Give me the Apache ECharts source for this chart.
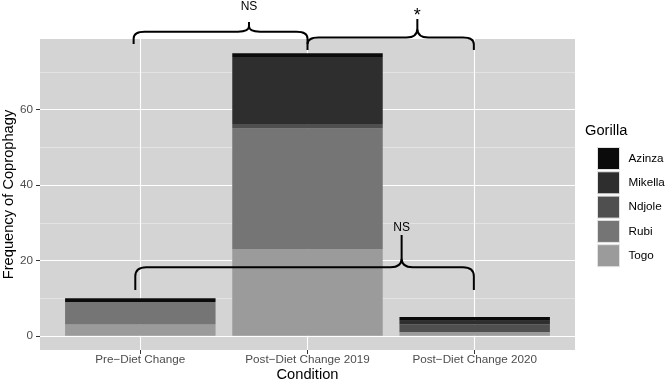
<!DOCTYPE html>
<html><head><meta charset="utf-8">
<script src="https://cdn.jsdelivr.net/npm/echarts@6/dist/echarts.min.js"></script>
<style>html,body{margin:0;padding:0;background:#fff}#c{width:666px;height:384px}</style>
</head><body><div id="c"></div>
<script>
// ---- data ----
const categories = ['Pre\u2212Diet Change', 'Post\u2212Diet Change 2019', 'Post\u2212Diet Change 2020'];
const gorillas = ['Azinza', 'Mikella', 'Ndjole', 'Rubi', 'Togo'];
const azinza  = [1, 1, 1];
const mikella = [0, 18, 1];
const ndjole  = [0, 1, 2];
const rubi    = [6, 32, 0];
const togo    = [3, 23, 1];
const yTicks  = [0, 20, 40, 60];
const yMinorTicks = [10, 30, 50, 70];

// ---- significance brace annotations (data units) ----
const braceLabels = ['NS', '*', 'NS'];
const braceStart  = [-0.04, 1.0, -0.03];
const braceEnd    = [1.0, 1.995, 1.995];
const braceMid    = [0.65, 1.657, 1.563];
const braceLevel  = [80.69, 79.15, 18.19];
const braceTip    = [77.42, 75.83, 12.17];
const bracePeak   = [83.26, 84.06, 26.76];
const braceText   = [87.37, 84.85, 28.6];

const FONT = '"Liberation Sans", Arial, Helvetica, sans-serif';
const fills = { Azinza: '#0b0b0b', Mikella: '#2e2e2e', Ndjole: '#4f4f4f', Rubi: '#757575', Togo: '#9b9b9b' };
const values = { Azinza: azinza, Mikella: mikella, Ndjole: ndjole, Rubi: rubi, Togo: togo };
const stackOrder = ['Togo', 'Rubi', 'Ndjole', 'Mikella', 'Azinza'];

const Y_MIN = -3.75, Y_MAX = 78.75;
const catIdx = categories.map((c, i) => i);

const barSeries = stackOrder.map(name => ({
  name: name,
  type: 'bar',
  stack: 'total',
  xAxisIndex: 1,
  yAxisIndex: 2,
  barWidth: '90%',
  itemStyle: { color: fills[name] },
  data: values[name]
}));

const braceData = braceLabels.map((l, i) => [braceStart[i], braceEnd[i], braceMid[i], braceLevel[i], braceTip[i], bracePeak[i], braceText[i]]);

const braceSeries = {
  type: 'custom',
  xAxisIndex: 0,
  yAxisIndex: 0,
  clip: false,
  silent: true,
  z: 10,
  encode: { x: [0, 1, 2], y: [3, 4, 5, 6] },
  data: braceData,
  renderItem: function (params, api) {
    const i = params.dataIndex;
    const L = api.coord([api.value(0), api.value(3)]);
    const R = api.coord([api.value(1), api.value(3)]);
    const C = api.coord([api.value(2), api.value(3)]);
    const tipY = api.coord([0, api.value(4)])[1];
    const peakY = api.coord([0, api.value(5)])[1];
    const T = api.coord([api.value(2), api.value(6)]);
    const ly = L[1];
    const rx = 11;
    const ryT = Math.min(9, (tipY - ly) * 0.55);
    const ryP = Math.min(9, (ly - peakY) * 0.55);
    const p =
      'M' + L[0] + ',' + tipY + ' L' + L[0] + ',' + (ly + ryT) + ' Q' + L[0] + ',' + ly + ' ' + (L[0] + rx) + ',' + ly +
      ' L' + (C[0] - rx) + ',' + ly + ' Q' + C[0] + ',' + ly + ' ' + C[0] + ',' + (ly - ryP) + ' L' + C[0] + ',' + peakY +
      ' M' + R[0] + ',' + tipY + ' L' + R[0] + ',' + (ly + ryT) + ' Q' + R[0] + ',' + ly + ' ' + (R[0] - rx) + ',' + ly +
      ' L' + (C[0] + rx) + ',' + ly + ' Q' + C[0] + ',' + ly + ' ' + C[0] + ',' + (ly - ryP) + ' L' + C[0] + ',' + peakY;
    const isStar = braceLabels[i] === '*';
    return {
      type: 'group',
      children: [
        { type: 'path', shape: { pathData: p }, style: { stroke: '#000', lineWidth: 2, fill: null } },
        { type: 'text', x: T[0], y: T[1], style: { text: braceLabels[i], fontFamily: FONT, fontSize: isStar ? 18 : 12, fill: '#000', align: 'center', verticalAlign: 'middle' } }
      ]
    };
  }
};

const chart = echarts.init(document.getElementById('c'), null, { renderer: 'canvas' });
chart.setOption({
  animation: false,
  backgroundColor: '#fff',
  textStyle: { fontFamily: FONT },
  grid: [
    { left: 40, right: 91, top: 39, bottom: 34, show: true, backgroundColor: '#d4d4d4', borderWidth: 0, containLabel: false, outerBoundsMode: 'none' },
    { left: 56.72, right: 107.72, top: 39, bottom: 34, show: false, containLabel: false, outerBoundsMode: 'none' }
  ],
  xAxis: [
    {
      type: 'value', gridIndex: 0, min: -0.6, max: 2.6, position: 'bottom',
      axisLine: { show: false, onZero: false },
      axisTick: { show: true, customValues: catIdx, length: 4, lineStyle: { color: '#333', width: 1 } },
      axisLabel: { customValues: catIdx, formatter: v => categories[Math.round(v)], fontSize: 11.7, color: '#4d4d4d', margin: 4, fontFamily: FONT },
      splitLine: { show: true, lineStyle: { color: '#ffffff', width: 1.1 } },
      name: 'Condition', nameLocation: 'middle', nameGap: 17, nameMoveOverlap: false,
      nameTextStyle: { fontSize: 14.67, color: '#000', fontFamily: FONT }
    },
    { type: 'category', gridIndex: 1, data: categories, show: false, axisLine: { onZero: false } }
  ],
  yAxis: [
    {
      type: 'value', gridIndex: 0, min: Y_MIN, max: Y_MAX, position: 'left',
      axisLine: { show: false, onZero: false },
      axisTick: { show: true, customValues: yTicks, length: 4, lineStyle: { color: '#333', width: 1 } },
      axisLabel: { customValues: yTicks, fontSize: 11.7, color: '#4d4d4d', margin: 7, fontFamily: FONT },
      splitLine: { show: true, lineStyle: { color: '#ffffff', width: 1.1 } },
      name: 'Frequency of Coprophagy', nameLocation: 'middle', nameGap: 24, nameRotate: 90, nameMoveOverlap: false,
      nameTextStyle: { fontSize: 14.67, color: '#000', fontFamily: FONT }
    },
    {
      type: 'value', gridIndex: 0, min: Y_MIN, max: Y_MAX, position: 'left',
      axisLine: { show: false, onZero: false },
      axisTick: { show: false, customValues: yMinorTicks },
      axisLabel: { show: false, customValues: yMinorTicks },
      splitLine: { show: true, lineStyle: { color: '#ececec', width: 0.6 } }
    },
    { type: 'value', gridIndex: 1, min: Y_MIN, max: Y_MAX, show: false, splitLine: { show: false }, axisLine: { onZero: false } }
  ],
  legend: {
    data: gorillas,
    orient: 'vertical',
    left: 597, top: 147,
    itemWidth: 22, itemHeight: 22, itemGap: 1.3,
    icon: 'rect',
    padding: 0,
    selectedMode: false,
    itemStyle: { borderColor: '#e2e2e2', borderWidth: 1 },
    textStyle: { fontSize: 11.7, color: '#000', fontFamily: FONT, padding: [0, 0, 0, 4] }
  },
  graphic: [
    { type: 'text', left: 585, top: 123, style: { text: 'Gorilla', fontSize: 14.67, fill: '#000', fontFamily: FONT } }
  ],
  series: barSeries.concat([braceSeries])
});
</script>
</body></html>
